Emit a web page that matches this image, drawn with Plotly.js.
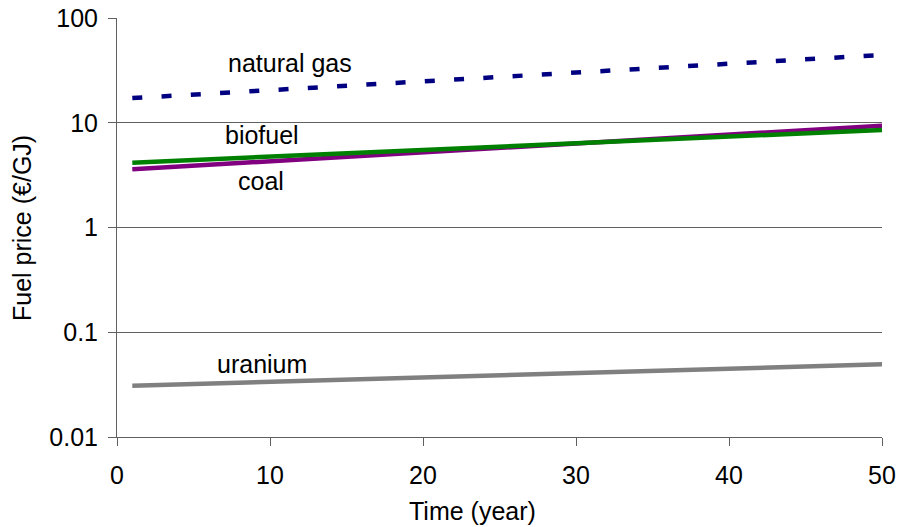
<!DOCTYPE html>
<html>
<head>
<meta charset="utf-8">
<script src="https://cdn.plot.ly/plotly-3.0.1.min.js"></script>
<style>html,body{margin:0;padding:0;background:#fff;}#chart{width:901px;height:527px;}</style>
</head>
<body>
<div id="chart"></div>
<script>
// Data (€/GJ)
var years = [1, 10, 20, 30, 40, 50];
var naturalGas = [17.2, 20.5, 24.8, 30.2, 36.6, 44.4];
var biofuel = [4.16, 4.74, 5.49, 6.36, 7.37, 8.53];
var coal = [3.6, 4.29, 5.22, 6.34, 7.71, 9.37];
var uranium = [0.0309, 0.0337, 0.0371, 0.0408, 0.0449, 0.0494];
var yTickVals = [0.01, 0.1, 1, 10, 100];
var yTickText = ["0.01", "0.1", "1", "10", "100"];
var xTickVals = [0, 10, 20, 30, 40, 50];
var xTitle = "Time (year)";
var yTitle = "Fuel price (€/GJ)";

var FONT = "Liberation Sans, Arial, sans-serif";
var FS = 25;
var traces = [
  {x: years, y: naturalGas, mode: "lines", name: "natural gas",
   line: {color: "#000080", width: 4.5, dash: "10px,19.3px"}},
  {x: years, y: coal, mode: "lines", name: "coal",
   line: {color: "#800080", width: 4.5}},
  {x: years, y: biofuel, mode: "lines", name: "biofuel",
   line: {color: "#008000", width: 4.5}},
  {x: years, y: uranium, mode: "lines", name: "uranium",
   line: {color: "#808080", width: 4.5}}
];

var lblFont = {family: FONT, size: FS, color: "#000"};
function lbl(px, py, t, ang) {
  return {xref: "paper", yref: "paper", x: (px-117)/765, y: (437-py)/419,
          xanchor: "center", yanchor: "middle", text: t, showarrow: false,
          textangle: ang || 0, font: lblFont};
}
var layout = {
  width: 901, height: 527,
  margin: {l: 117, r: 19, t: 18, b: 90},
  paper_bgcolor: "#fff", plot_bgcolor: "#fff",
  showlegend: false,
  font: {family: FONT, size: FS, color: "#000"},
  xaxis: {
    range: [0, 50], tickvals: xTickVals, ticktext: xTickVals.map(String),
    showgrid: false, zeroline: false, showline: true, linecolor: "#606060", linewidth: 1,
    ticks: "outside", ticklen: 8, tickcolor: "#606060", tickwidth: 1,
    ticklabelstandoff: 8,
    tickfont: {family: FONT, size: FS, color: "#000"}
  },
  yaxis: {
    type: "log", range: [-2, 2], tickvals: yTickVals, ticktext: yTickText,
    showgrid: true, gridcolor: "#606060", gridwidth: 1,
    zeroline: false, showline: true, linecolor: "#606060", linewidth: 1,
    ticks: "outside", ticklen: 8, tickcolor: "#606060", tickwidth: 1,
    ticklabelstandoff: 5,
    tickfont: {family: FONT, size: FS, color: "#000"}
  },
  annotations: [
    lbl(290, 63, "natural gas"),
    lbl(262, 135, "biofuel"),
    lbl(261, 181, "coal"),
    lbl(262, 364, "uranium"),
    lbl(472, 511, xTitle),
    lbl(22, 228, yTitle, -90)
  ]
};
Plotly.newPlot("chart", traces, layout, {displayModeBar: false, staticPlot: true});
</script>
</body>
</html>
